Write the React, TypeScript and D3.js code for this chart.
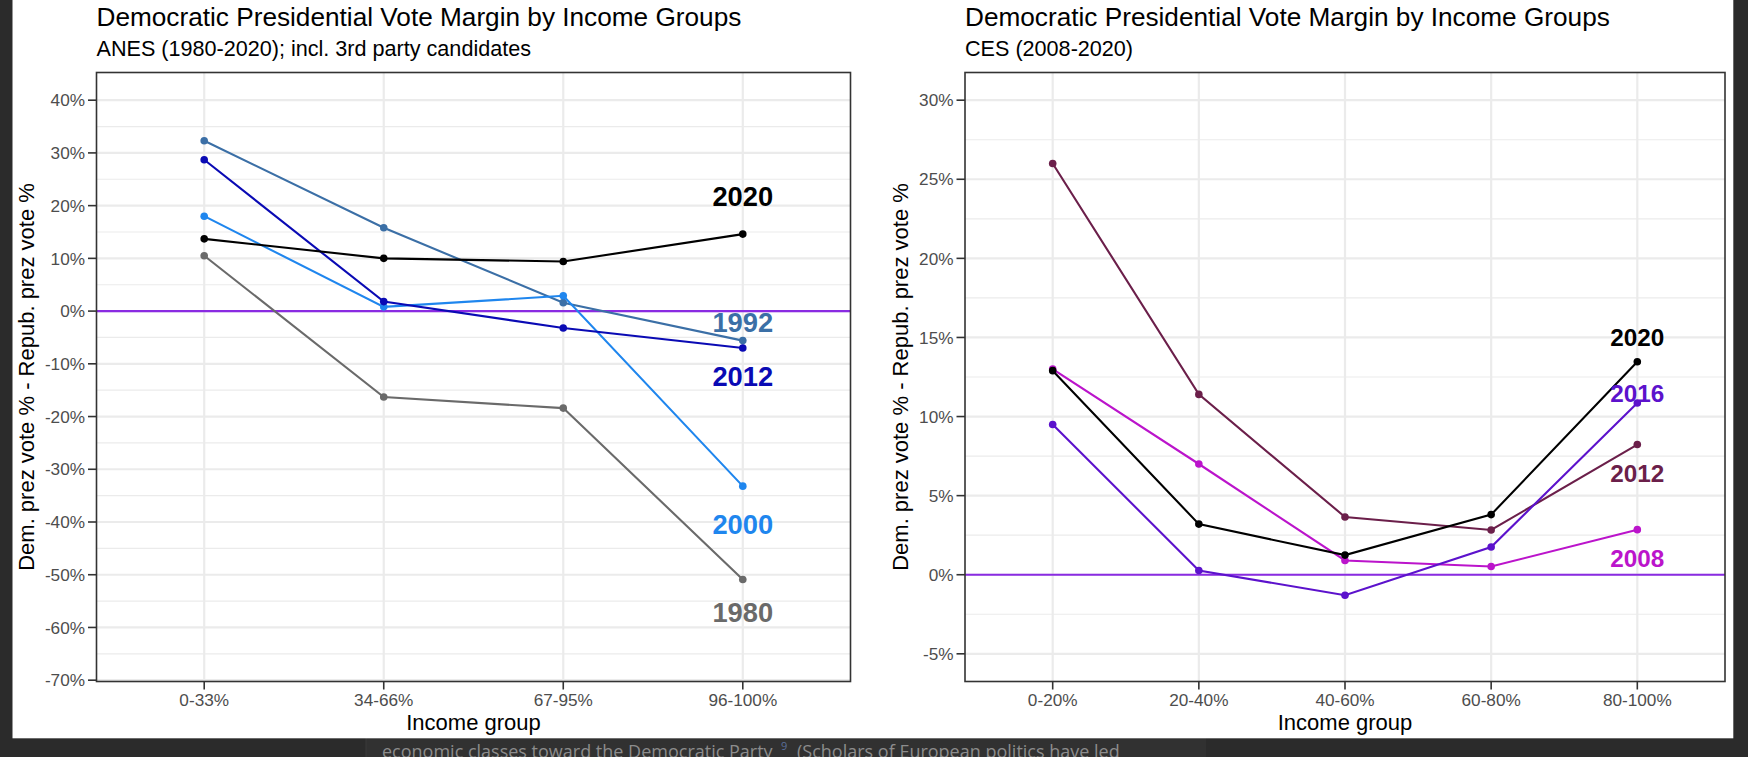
import React from "react";
import * as d3 from "d3";

// ---------- data ----------
const titleText = "Democratic Presidential Vote Margin by Income Groups";
const leftSubtitle = "ANES (1980-2020); incl. 3rd party candidates";
const rightSubtitle = "CES (2008-2020)";
const yAxisTitle = "Dem. prez vote % - Repub. prez vote %";
const xAxisTitle = "Income group";

const leftCategories = ["0-33%", "34-66%", "67-95%", "96-100%"];
const leftYears = ["1980", "1992", "2000", "2012", "2020"];
const left1980 = [10.5, -16.3, -18.4, -50.9];
const left1992 = [32.3, 15.8, 1.6, -5.6];
const left2000 = [18.0, 0.8, 2.9, -33.2];
const left2012 = [28.7, 1.8, -3.2, -7.0];
const left2020 = [13.7, 10.0, 9.4, 14.6];
const leftColors = ["#6a6a6a", "#3b6fa6", "#1f86ee", "#0a0ab4", "#000000"];
const leftLabelY = [-57.2, -2.2, -40.4, -12.3, 21.8];
const leftTicks = [-70, -60, -50, -40, -30, -20, -10, 0, 10, 20, 30, 40];
const leftMinor = [-65, -55, -45, -35, -25, -15, -5, 5, 15, 25, 35];
const leftDomain = [-70.25, 45.25];

const rightCategories = ["0-20%", "20-40%", "40-60%", "60-80%", "80-100%"];
const rightYears = ["2008", "2012", "2016", "2020"];
const right2008 = [13.0, 7.0, 0.9, 0.52, 2.85];
const right2012 = [26.0, 11.4, 3.65, 2.83, 8.23];
const right2016 = [9.5, 0.27, -1.3, 1.75, 10.86];
const right2020 = [12.9, 3.2, 1.24, 3.8, 13.46];
const rightColors = ["#bb14cb", "#6b1f4a", "#5c12cc", "#000000"];
const rightLabelY = [1.06, 6.42, 11.46, 15.0];
const rightTicks = [-5, 0, 5, 10, 15, 20, 25, 30];
const rightMinor = [-2.5, 2.5, 7.5, 12.5, 17.5, 22.5, 27.5];
const rightDomain = [-6.75, 31.75];

const pageText1 = "economic classes toward the Democratic Party";
const pageSup = "9";
const pageText2 = "(Scholars of European politics have led";

// ---------- layout ----------
const W = 1748;
const H = 757;
const FONT = "'Liberation Sans', Arial, Helvetica, sans-serif";

type PanelProps = {
  left: number;
  right: number;
  top: number;
  bottom: number;
  categories: string[];
  series: number[][];
  colors: string[];
  years: string[];
  labelY: number[];
  labelSize: number;
  ticks: number[];
  minor: number[];
  domain: number[];
  subtitle: string;
  yTitleX: number;
};

function Panel(p: PanelProps) {
  const x = d3
    .scalePoint<string>()
    .domain(p.categories)
    .range([p.left, p.right])
    .padding(0.6);
  const y = d3.scaleLinear().domain(p.domain).range([p.bottom, p.top]);
  const line = d3
    .line<number>()
    .x((_, i) => x(p.categories[i]) as number)
    .y((d) => y(d));
  const fmt = (v: number) => `${v}%`;
  const lastCat = p.categories[p.categories.length - 1];
  const midY = (p.top + p.bottom) / 2;
  const midX = (p.left + p.right) / 2;
  return (
    <g>
      {/* titles */}
      <text x={p.left} y={26} fontSize={26.2} fill="#000" fontFamily={FONT}>
        {titleText}
      </text>
      <text x={p.left} y={56} fontSize={21.6} fill="#000" fontFamily={FONT}>
        {p.subtitle}
      </text>
      {/* panel background */}
      <rect x={p.left} y={p.top} width={p.right - p.left} height={p.bottom - p.top} fill="#fff" />
      {/* minor grid */}
      {p.minor.map((v) => (
        <line key={"mi" + v} x1={p.left} x2={p.right} y1={y(v)} y2={y(v)} stroke="#ebebeb" strokeWidth={1.2} />
      ))}
      {/* major grid */}
      {p.ticks.map((v) => (
        <line key={"ma" + v} x1={p.left} x2={p.right} y1={y(v)} y2={y(v)} stroke="#ebebeb" strokeWidth={2.2} />
      ))}
      {p.categories.map((c) => (
        <line key={"v" + c} x1={x(c)} x2={x(c)} y1={p.top} y2={p.bottom} stroke="#ebebeb" strokeWidth={2.2} />
      ))}
      {/* zero line */}
      <line x1={p.left} x2={p.right} y1={y(0)} y2={y(0)} stroke="#8a2be2" strokeWidth={2.2} />
      {/* series */}
      {p.series.map((s, i) => (
        <g key={"s" + i}>
          <path d={line(s) || ""} fill="none" stroke={p.colors[i]} strokeWidth={2.1} />
          {s.map((v, j) => (
            <circle key={j} cx={x(p.categories[j])} cy={y(v)} r={3.8} fill={p.colors[i]} />
          ))}
        </g>
      ))}
      {/* year labels */}
      {p.years.map((yr, i) => (
        <text
          key={"l" + yr}
          x={x(lastCat)}
          y={y(p.labelY[i]) + p.labelSize * 0.358}
          textAnchor="middle"
          fontSize={p.labelSize}
          fontWeight="bold"
          fill={p.colors[i]}
          fontFamily={FONT}
        >
          {yr}
        </text>
      ))}
      {/* border */}
      <rect
        x={p.left}
        y={p.top}
        width={p.right - p.left}
        height={p.bottom - p.top}
        fill="none"
        stroke="#333333"
        strokeWidth={1.6}
      />
      {/* y axis ticks */}
      {p.ticks.map((v) => (
        <g key={"yt" + v}>
          <line x1={p.left - 8.5} x2={p.left} y1={y(v)} y2={y(v)} stroke="#333333" strokeWidth={1.6} />
          <text
            x={p.left - 11.5}
            y={y(v) + 17.2 * 0.358}
            textAnchor="end"
            fontSize={17.2}
            fill="#4d4d4d"
            fontFamily={FONT}
          >
            {fmt(v)}
          </text>
        </g>
      ))}
      {/* x axis ticks */}
      {p.categories.map((c) => (
        <g key={"xt" + c}>
          <line x1={x(c)} x2={x(c)} y1={p.bottom} y2={p.bottom + 8} stroke="#333333" strokeWidth={1.6} />
          <text x={x(c)} y={706} textAnchor="middle" fontSize={17.2} fill="#4d4d4d" fontFamily={FONT}>
            {c}
          </text>
        </g>
      ))}
      {/* axis titles */}
      <text x={midX} y={730} textAnchor="middle" fontSize={22} fill="#000" fontFamily={FONT}>
        {xAxisTitle}
      </text>
      <text
        transform={`translate(${p.yTitleX},${midY}) rotate(-90)`}
        textAnchor="middle"
        fontSize={22}
        fill="#000"
        fontFamily={FONT}
      >
        {yAxisTitle}
      </text>
    </g>
  );
}

export default function App() {
  const top = 72.5;
  const bottom = 681.5;
  return (
    <svg
      width={W}
      height={H}
      viewBox={`0 0 ${W} ${H}`}
      style={{ position: "absolute", left: 0, top: 0, display: "block" }}
    >
      <defs>
        <clipPath id="pageclip">
          <rect x={0} y={0} width={W} height={H} />
        </clipPath>
      </defs>
      {/* surrounding dark page */}
      <rect x={0} y={0} width={W} height={H} fill="#2b2b2b" />
      <rect x={366} y={738} width={840} height={H - 738} fill="#313131" />
      <line x1={366} x2={366} y1={738} y2={H} stroke="#3a3a3a" strokeWidth={1} />
      <g clipPath="url(#pageclip)">
        <text x={382} y={758} fontSize={18} fill="#8c8c8c" fontFamily="'Open Sans', sans-serif">
          {pageText1}
        </text>
        <text x={781} y={750} fontSize={11} fill="#5a6f9a" fontFamily="'Open Sans', sans-serif">
          {pageSup}
        </text>
        <text x={797} y={758} fontSize={18} fill="#8c8c8c" fontFamily="'Open Sans', sans-serif">
          {pageText2}
        </text>
      </g>
      {/* white figure area */}
      <rect x={12.5} y={0} width={1733.3 - 12.5} height={738.3} fill="#ffffff" />
      <Panel
        left={96.5}
        right={850.5}
        top={top}
        bottom={bottom}
        categories={leftCategories}
        series={[left1980, left1992, left2000, left2012, left2020]}
        colors={leftColors}
        years={leftYears}
        labelY={leftLabelY}
        labelSize={27.3}
        ticks={leftTicks}
        minor={leftMinor}
        domain={leftDomain}
        subtitle={leftSubtitle}
        yTitleX={34}
      />
      <Panel
        left={965}
        right={1725}
        top={top}
        bottom={bottom}
        categories={rightCategories}
        series={[right2008, right2012, right2016, right2020]}
        colors={rightColors}
        years={rightYears}
        labelY={rightLabelY}
        labelSize={24.3}
        ticks={rightTicks}
        minor={rightMinor}
        domain={rightDomain}
        subtitle={rightSubtitle}
        yTitleX={907.5}
      />
    </svg>
  );
}
